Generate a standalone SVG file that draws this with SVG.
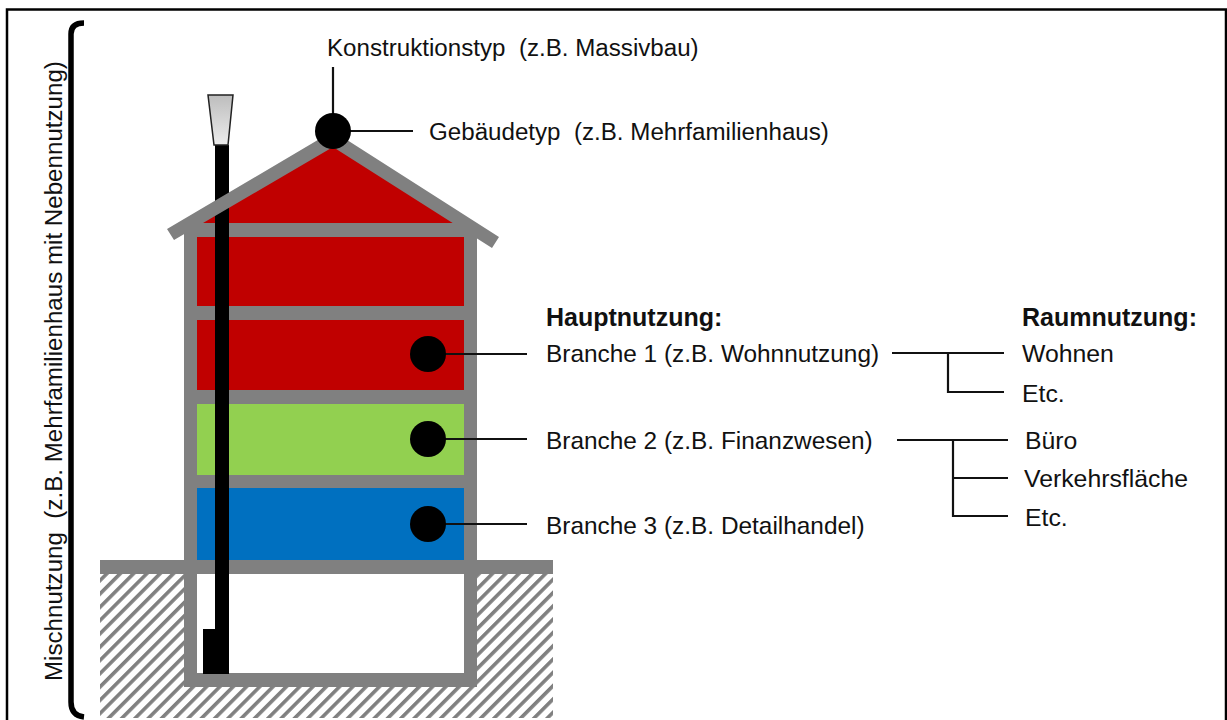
<svg xmlns="http://www.w3.org/2000/svg" width="1227" height="720" viewBox="0 0 1227 720">
<style>
text{font-family:"Liberation Sans",Arial,sans-serif;font-size:24.15px;fill:#111}
.m{font-size:24.4px}
.b{font-weight:bold;font-size:25px}
.r{font-size:24.8px}
.w{fill:#808080}
.l{fill:none;stroke:#111;stroke-width:2.2}
.d{fill:#000}
</style>
<defs>
<pattern id="hatch" width="9.400" height="11" patternUnits="userSpaceOnUse" patternTransform="rotate(45)">
<rect x="0" y="0" width="3.600" height="11" fill="#808080"/>
</pattern>
<linearGradient id="cap" x1="0" y1="0" x2="0" y2="1"><stop offset="0" stop-color="#bdbdbd"/><stop offset="1" stop-color="#ececec"/></linearGradient>
</defs>
<rect width="1227" height="720" fill="#fff"/>
<path d="M7 720V9.500H1226V720" fill="none" stroke="#000" stroke-width="2.500"/>
<g id="building">
<rect x="100" y="574" width="453" height="144" fill="url(#hatch)"/>
<rect x="197" y="574" width="267" height="99" fill="#fff"/>
<path d="M200 223L333 146L455 223Z" fill="#c00000"/>
<rect x="197" y="237" width="267" height="153" fill="#c00000"/>
<rect x="197" y="404" width="267" height="72" fill="#92d050"/>
<rect x="197" y="488" width="267" height="73" fill="#0070c0"/>
<path class="w" d="M184 230H197V673H464V230H477V687H184Z"/>
<rect class="w" x="184" y="223" width="293" height="14"/>
<rect class="w" x="197" y="306" width="267" height="14"/>
<rect class="w" x="197" y="390" width="267" height="14"/>
<rect class="w" x="197" y="475" width="267" height="13"/>
<rect class="w" x="100" y="560" width="453" height="14"/>
<path class="d" d="M215 145H229V674H203V629H215Z"/>
<path class="w" d="M167 229L333 131L499 237L492 248L333 147L174 240Z"/>
<path d="M208 95H233L228 145H214Z" fill="url(#cap)" stroke="#222" stroke-width="1.500"/>
</g>
<path id="brace" d="M84 23C76 23 71 26 71 34V702C71 711 75 716 84 717" fill="none" stroke="#000" stroke-width="5.500"/>
<g id="connectors">
<path class="l" d="M333 67V120M350 131H413M445 354H527M445 439H527M445 524H527M892 353H1004M948 353V392H1004M897 440H1008M953 440V516H1008M953 478H1008"/>
</g>
<g id="n-top"><circle class="d" cx="333" cy="131" r="18"/></g>
<g id="n-1"><circle class="d" cx="428" cy="354" r="18"/></g>
<g id="n-2"><circle class="d" cx="428" cy="439" r="18"/></g>
<g id="n-3"><circle class="d" cx="428" cy="524" r="18"/></g>
<g id="labels">
<text x="327" y="56" xml:space="preserve">Konstruktionstyp  (z.B. Massivbau)</text>
<text x="429" y="140" xml:space="preserve">Gebäudetyp  (z.B. Mehrfamilienhaus)</text>
<text class="b" x="546" y="326">Hauptnutzung:</text>
<text class="m" x="546" y="362">Branche 1 (z.B. Wohnnutzung)</text>
<text class="m" x="546" y="449">Branche 2 (z.B. Finanzwesen)</text>
<text class="m" x="546" y="534">Branche 3 (z.B. Detailhandel)</text>
<text class="b" x="1022" y="326">Raumnutzung:</text>
<text class="r" x="1022" y="362">Wohnen</text>
<text class="r" x="1022" y="402">Etc.</text>
<text class="r" x="1025" y="449">Büro</text>
<text class="r" x="1024" y="487">Verkehrsfläche</text>
<text class="r" x="1025" y="526">Etc.</text>
<text transform="translate(62 681) rotate(-90)" xml:space="preserve">Mischnutzung  (z.B. Mehrfamilienhaus mit Nebennutzung)</text>
</g>
</svg>
